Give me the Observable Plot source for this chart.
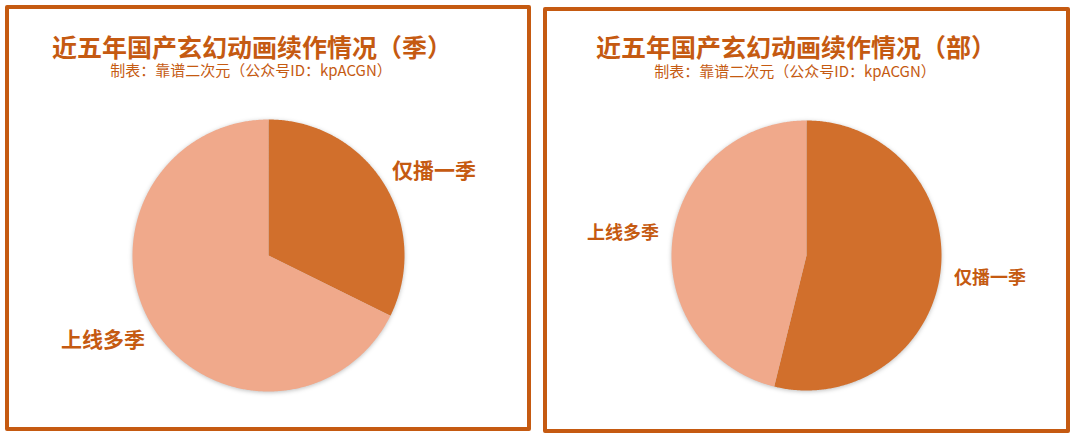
<!DOCTYPE html>
<html><head><meta charset="utf-8">
<script src="https://cdn.jsdelivr.net/npm/d3@7"></script>
<script src="https://cdn.jsdelivr.net/npm/@observablehq/plot@0.6"></script>
<style>
html,body{margin:0;padding:0;background:#fff;width:1080px;height:438px;overflow:hidden;position:relative;font-family:"Noto Sans CJK SC","Noto Sans",sans-serif;}
.box{position:absolute;box-sizing:border-box;border:4px solid #C55A11;border-radius:2px;}
.title{position:absolute;width:500px;text-align:center;color:#C55A11;font-weight:bold;font-size:25px;line-height:26px;white-space:nowrap;}
.sub{position:absolute;width:500px;text-align:center;color:#C55A11;font-size:15px;line-height:16px;white-space:nowrap;}
.chart{position:absolute;}
.chart svg g[aria-label="line"]{filter:drop-shadow(0px 1px 2px rgba(0,0,0,0.25));}
</style></head><body>
<script>
// ---- data ----
const categories = ["仅播一季", "上线多季"];
const seasonCounts = [21, 44];   // 按季统计
const workCounts = [21, 18];     // 按部统计
const titles = ["近五年国产玄幻动画续作情况（季）", "近五年国产玄幻动画续作情况（部）"];
const subtitle = "制表：靠谱二次元（公众号ID：kpACGN）";
const colors = ["#D16F2C", "#F0A98B"];

// ---- layout ----
const layouts = [
  {values: seasonCounts, title: titles[0], box: {left: 5, top: 5, w: 526, h: 426},
   titleC: [252, 47], subC: [251, 71], cx: 268, cy: 255, r: 136, labelFont: 21,
   labelDist: 1.365, labelAngle: {"仅播一季": 63, "上线多季": 243}},
  {values: workCounts, title: titles[1], box: {left: 543, top: 7, w: 527, h: 426},
   titleC: [796, 47], subC: [795, 72], cx: 806, cy: 255, r: 135, labelFont: 18,
   labelDist: 1.37, labelAngle: {}}
];

const W = 480, H = 300;
const body = document.body;

for (const L of layouts) {
  const box = document.createElement("div");
  box.className = "box";
  Object.assign(box.style, {left: L.box.left + "px", top: L.box.top + "px", width: L.box.w + "px", height: L.box.h + "px"});
  body.appendChild(box);

  const t = document.createElement("div");
  t.className = "title";
  t.textContent = L.title;
  Object.assign(t.style, {left: (L.titleC[0] - 250) + "px", top: (L.titleC[1] - 14) + "px"});
  body.appendChild(t);

  const s = document.createElement("div");
  s.className = "sub";
  s.textContent = subtitle;
  Object.assign(s.style, {left: (L.subC[0] - 250) + "px", top: (L.subC[1] - 9) + "px"});
  body.appendChild(s);

  const table = categories.map((c, i) => ({key: c, value: L.values[i]}));
  const arcs = d3.pie().sort(null).value(d => d.value)(table);

  const points = [];
  const labels = [];
  for (const a of arcs) {
    const key = a.data.key;
    points.push({key, x: 0, y: 0});
    const n = Math.max(2, Math.ceil((a.endAngle - a.startAngle) / (Math.PI / 360)));
    for (let k = 0; k <= n; k++) {
      const ang = a.startAngle + (a.endAngle - a.startAngle) * k / n;
      points.push({key, x: Math.sin(ang), y: Math.cos(ang)});
    }
    points.push({key, x: 0, y: 0});
    const mid = L.labelAngle[key] !== undefined ? L.labelAngle[key] * Math.PI / 180 : (a.startAngle + a.endAngle) / 2;
    labels.push({key, x: L.labelDist * Math.sin(mid), y: L.labelDist * Math.cos(mid)});
  }

  const plot = Plot.plot({
    width: W, height: H, margin: 0,
    x: {domain: [-W / 2 / L.r, W / 2 / L.r], axis: null},
    y: {domain: [-H / 2 / L.r, H / 2 / L.r], axis: null},
    color: {domain: categories, range: colors},
    style: {background: "transparent", overflow: "visible"},
    marks: [
      Plot.line(points, {x: "x", y: "y", z: "key", fill: "key", stroke: "none", curve: "linear"}),
      Plot.text(labels, {x: "x", y: "y", text: "key", fill: "#C55A11", fontSize: L.labelFont,
        fontWeight: "bold", fontFamily: "Noto Sans CJK SC"})
    ]
  });
  const wrap = document.createElement("div");
  wrap.className = "chart";
  Object.assign(wrap.style, {left: (L.cx - W / 2) + "px", top: (L.cy - H / 2) + "px", width: W + "px", height: H + "px"});
  wrap.appendChild(plot);
  body.appendChild(wrap);
}
</script>
</body></html>
